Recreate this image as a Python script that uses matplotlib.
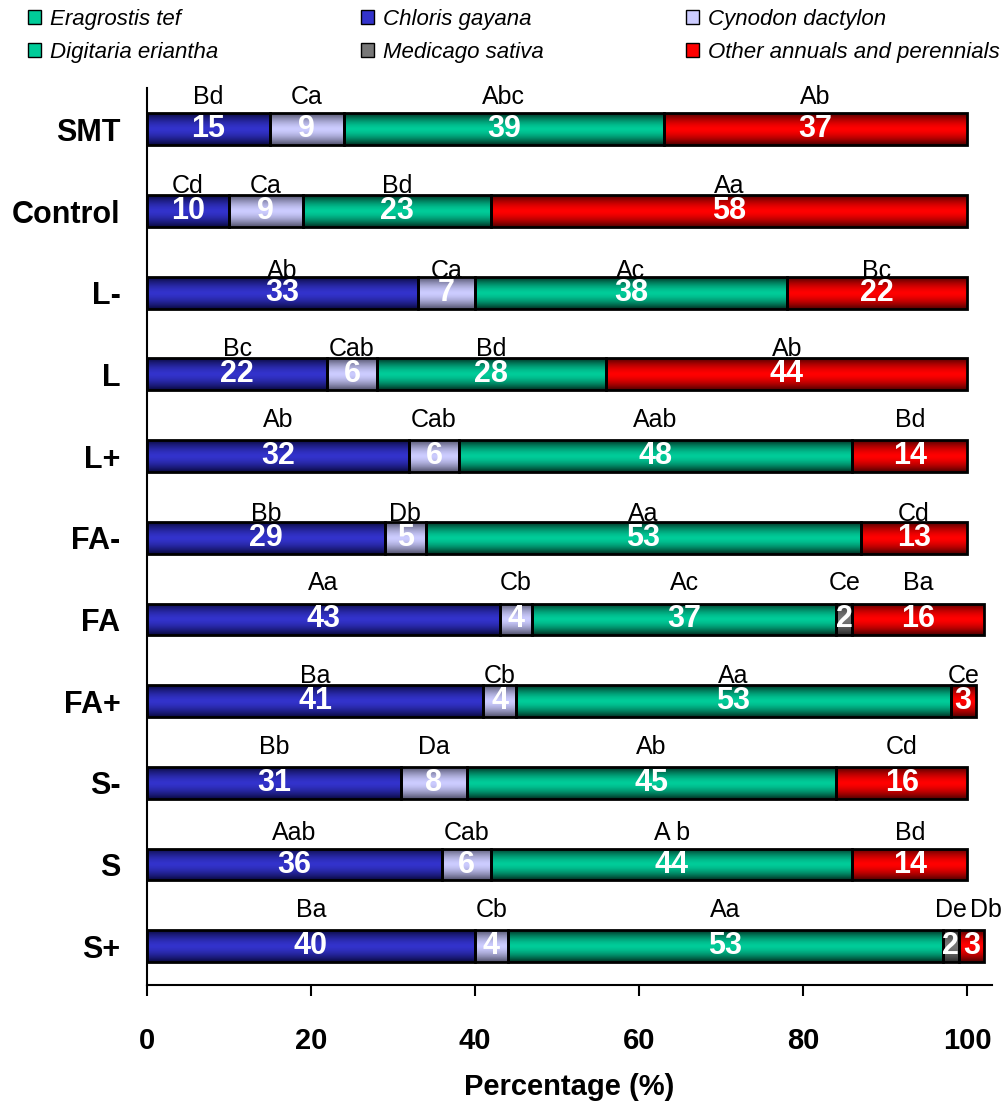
import numpy as np
import matplotlib
matplotlib.use('Agg')
import matplotlib.pyplot as plt
from matplotlib.colors import LinearSegmentedColormap
from matplotlib.patches import Patch

# Dados (% de cobertura por tratamento)
tratamentos = ['SMT', 'Control', 'L-', 'L', 'L+', 'FA-', 'FA', 'FA+', 'S-', 'S', 'S+']
chloris = [15, 10, 33, 22, 32, 29, 43, 41, 31, 36, 40]
cynodon = [9, 9, 7, 6, 6, 5, 4, 4, 8, 6, 4]
digitaria = [39, 23, 38, 28, 48, 53, 37, 53, 45, 44, 53]
medicago = [0, 0, 0, 0, 0, 0, 2, 0, 0, 0, 2]
outras = [37, 58, 22, 44, 14, 13, 16, 3, 16, 14, 3]

letras_chloris = ['Bd', 'Cd', 'Ab', 'Bc', 'Ab', 'Bb', 'Aa', 'Ba', 'Bb', 'Aab', 'Ba']
letras_cynodon = ['Ca', 'Ca', 'Ca', 'Cab', 'Cab', 'Db', 'Cb', 'Cb', 'Da', 'Cab', 'Cb']
letras_digitaria = ['Abc', 'Bd', 'Ac', 'Bd', 'Aab', 'Aa', 'Ac', 'Aa', 'Ab', 'A b', 'Aa']
letras_medicago = ['', '', '', '', '', '', 'Ce', '', '', '', 'De']
letras_outras = ['Ab', 'Aa', 'Bc', 'Ab', 'Bd', 'Cd', 'Ba', 'Ce', 'Cd', 'Bd', 'Db']

# altura das letras acima do centro da barra (px), varia por linha no original
letra_px = [32, 25, 22, 25, 36, 24, 36, 25, 36, 32, 36]

especies = [
    ('Chloris gayana', chloris, letras_chloris, '#3333cc', '#0a0a40'),
    ('Cynodon dactylon', cynodon, letras_cynodon, '#ccccff', '#50506a'),
    ('Digitaria eriantha', digitaria, letras_digitaria, '#00cc99', '#003022'),
    ('Medicago sativa', medicago, letras_medicago, '#777777', '#2a2a2a'),
    ('Other annuals and perennials', outras, letras_outras, '#ff0000', '#500000'),
]

plt.rcParams['font.family'] = ['Liberation Sans', 'DejaVu Sans']

fig = plt.figure(figsize=(10.06, 11.06), dpi=100)
ax = fig.add_axes([0.146, 0.109, 0.84, 0.811])

y = np.arange(len(tratamentos))
h = 0.39
grad = np.abs(np.linspace(-1, 1, 64)).reshape(-1, 1) ** 1.6

left = np.zeros(len(tratamentos))
for nome, vals, letras, claro, escuro in especies:
    vals = np.array(vals, dtype=float)
    cmap = LinearSegmentedColormap.from_list(nome, [claro, escuro])
    bars = ax.barh(y, vals, left=left, height=h, facecolor='none',
                   edgecolor='black', linewidth=2, zorder=3)
    for i, b in enumerate(bars):
        if vals[i] <= 0:
            b.set_visible(False)
            continue
        x0, y0 = b.get_x(), b.get_y()
        im = ax.imshow(grad, extent=(x0, x0 + b.get_width(), y0, y0 + h),
                       cmap=cmap, vmin=0, vmax=1, aspect='auto', zorder=2,
                       interpolation='bilinear')
        im.set_clip_path(b)
        xc = x0 + b.get_width() / 2
        ax.text(xc, y[i], f'{int(vals[i])}', color='white', fontsize=22,
                fontweight='bold', ha='center', va='center', zorder=4)
        if letras[i]:
            dx = 1.8 if (nome.startswith('Other') and medicago[i] > 0 and i == 10) else 0
            ax.annotate(letras[i], (xc + dx, y[i]), xytext=(0, letra_px[i] * 0.72),
                        textcoords='offset points', ha='center', va='center',
                        fontsize=18, zorder=5)
    left += vals

ax.set_xlim(0, 103)
ax.set_ylim(10.48, -0.5)
ax.set_yticks(y)
ax.set_yticklabels(tratamentos, fontsize=22, fontweight='bold')
ax.tick_params(axis='y', length=0, pad=19)
ax.set_xticks([0, 20, 40, 60, 80, 100])
ax.tick_params(axis='x', direction='out', length=8, width=1.5, pad=22)
for lbl in ax.get_xticklabels():
    lbl.set_fontweight('bold')
    lbl.set_fontsize(21)
ax.set_xlabel('Percentage (%)', fontsize=21, fontweight='bold', labelpad=13)

ax.spines['top'].set_visible(False)
ax.spines['right'].set_visible(False)
ax.spines['left'].set_linewidth(1.5)
ax.spines['bottom'].set_linewidth(1.5)

# Legenda (Eragrostis tef aparece só na legenda)
handles = [
    Patch(facecolor='#00cc99', edgecolor='black', label='Eragrostis tef'),
    Patch(facecolor='#00cc99', edgecolor='black', label='Digitaria eriantha'),
    Patch(facecolor='#3333cc', edgecolor='black', label='Chloris gayana'),
    Patch(facecolor='#777777', edgecolor='black', label='Medicago sativa'),
    Patch(facecolor='#ccccff', edgecolor='black', label='Cynodon dactylon'),
    Patch(facecolor='#ff0000', edgecolor='black', label='Other annuals and perennials'),
]
fig.legend(handles=handles, ncol=3, loc='upper left', bbox_to_anchor=(0.008, 1.01),
           frameon=False, handlelength=0.6, handleheight=0.6, handletextpad=0.4,
           columnspacing=6.4, labelspacing=0.55,
           prop={'style': 'italic', 'size': 16})

fig.savefig('out.png', dpi=100)
